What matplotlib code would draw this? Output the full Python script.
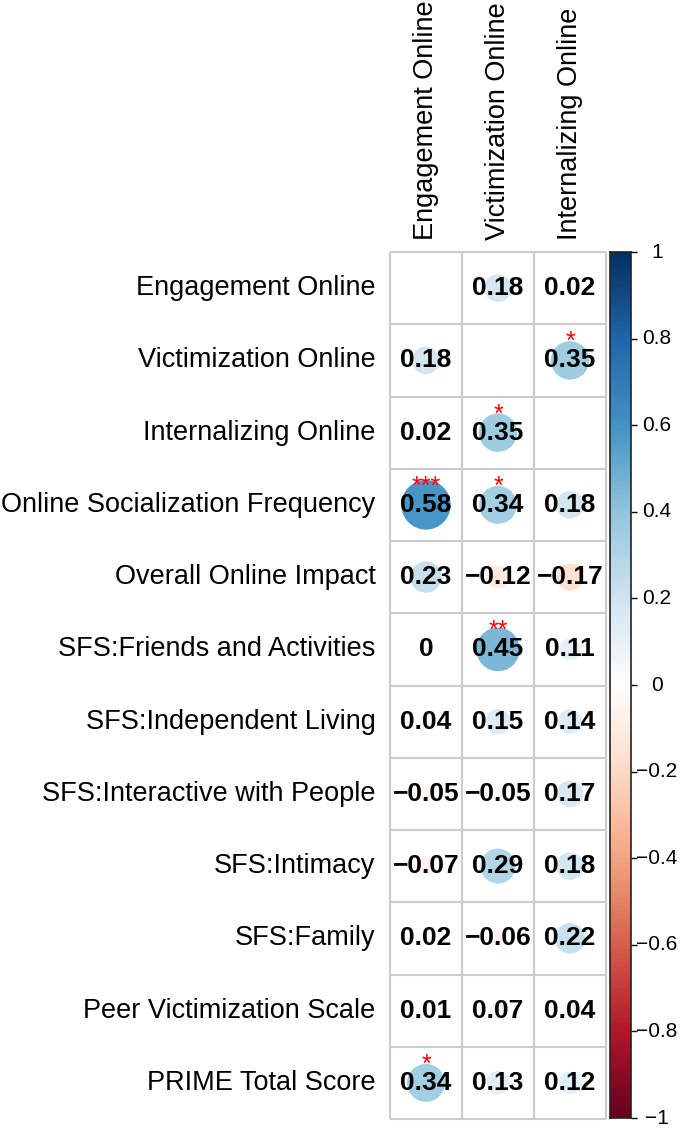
import numpy as np
import matplotlib
matplotlib.use("Agg")
import matplotlib.pyplot as plt
from matplotlib.colors import LinearSegmentedColormap, Normalize
from matplotlib.patches import Circle
from matplotlib.transforms import blended_transform_factory

plt.rcParams['font.family'] = ['Liberation Sans', 'DejaVu Sans']

row_labels = ["Engagement Online", "Victimization Online", "Internalizing Online",
              "Online Socialization Frequency", "Overall Online Impact",
              "SFS:Friends and Activities", "SFS:Independent Living",
              "SFS:Interactive with People", "SFS:Intimacy", "SFS:Family",
              "Peer Victimization Scale", "PRIME Total Score"]
col_labels = ["Engagement Online", "Victimization Online", "Internalizing Online"]

corr_engagement = [np.nan, 0.18, 0.02, 0.58, 0.23, 0.00, 0.04, -0.05, -0.07, 0.02, 0.01, 0.34]
corr_victimization = [0.18, np.nan, 0.35, 0.34, -0.12, 0.45, 0.15, -0.05, 0.29, -0.06, 0.07, 0.13]
corr_internalizing = [0.02, 0.35, np.nan, 0.18, -0.17, 0.11, 0.14, 0.17, 0.18, 0.22, 0.04, 0.12]

sig_engagement = ["", "", "", "***", "", "", "", "", "", "", "", "*"]
sig_victimization = ["", "", "*", "*", "", "**", "", "", "", "", "", ""]
sig_internalizing = ["", "*", "", "", "", "", "", "", "", "", "", ""]

cbar_ticks = [-1, -0.8, -0.6, -0.4, -0.2, 0, 0.2, 0.4, 0.6, 0.8, 1]

corr = np.column_stack([corr_engagement, corr_victimization, corr_internalizing])
sig = np.column_stack([sig_engagement, sig_victimization, sig_internalizing])

cmap = LinearSegmentedColormap.from_list(
    "corrRdBu", ["#67001F", "#B2182B", "#D6604D", "#F4A582", "#FDDBC7", "#FFFFFF",
                 "#D1E5F0", "#92C5DE", "#4393C3", "#2166AC", "#053061"], N=200)
norm = Normalize(-1, 1)

W, H = 680, 1130
fig = plt.figure(figsize=(W / 100, H / 100), dpi=100)

nrow, ncol = corr.shape
left, right, top, bottom = 390, 606, 252, 1119
ax = fig.add_axes([left / W, 1 - bottom / H, (right - left) / W, (bottom - top) / H])
ax.set_xlim(0, ncol)
ax.set_ylim(nrow, 0)
ax.set_axis_off()

grid_col = "#CCCCCC"
for i in range(nrow + 1):
    ax.plot([0, ncol], [i, i], color=grid_col, lw=1.5, solid_capstyle='butt', zorder=1, clip_on=False)
for j in range(ncol + 1):
    ax.plot([j, j], [0, nrow], color=grid_col, lw=1.5, solid_capstyle='butt', zorder=1, clip_on=False)

for i in range(nrow):
    for j in range(ncol):
        v = corr[i, j]
        if np.isnan(v):
            continue
        r = 0.45 * np.sqrt(abs(v))
        if r > 0:
            ax.add_patch(Circle((j + 0.5, i + 0.5), r, facecolor=cmap(norm(v)),
                                edgecolor='none', zorder=2))
        txt = "0" if v == 0 else f"{v:.2f}".replace("-", "\u2212")
        ax.text(j + 0.5, i + 0.5, txt, ha='center', va='center', fontsize=19,
                fontweight='bold', color='black', zorder=3)
        if sig[i, j]:
            ax.text(j + 0.5, i + 0.25, sig[i, j], ha='center', va='center', fontsize=18,
                    color='red', zorder=4)

for i, lab in enumerate(row_labels):
    ax.text(-0.2, i + 0.5, lab, ha='right', va='center', fontsize=19.5, color='black')
for j, lab in enumerate(col_labels):
    ax.text(j + 0.5, -0.17, lab, ha='center', va='bottom', rotation=90, fontsize=19.5, color='black')

# colorbar
cax = fig.add_axes([610 / W, 1 - 1118 / H, 21 / W, (1118 - 252) / H])
grad = np.linspace(-1, 1, 200).reshape(-1, 1)
cax.imshow(grad, aspect='auto', cmap=cmap, norm=norm, origin='lower', extent=[0, 1, -1, 1])
cax.set_xlim(0, 1)
cax.set_ylim(-1, 1)
cax.set_xticks([])
cax.yaxis.tick_right()
cax.set_yticks(cbar_ticks)
cax.set_yticklabels([])
cax.tick_params(axis='y', length=4, width=1, colors='black')
trans = blended_transform_factory(cax.transAxes, cax.transData)
for t in cbar_ticks:
    lab = ("\u2212" if t < 0 else "") + f"{abs(t):g}"
    cax.text(2.24, t, lab, transform=trans, ha='center', va='center', fontsize=15,
             color='black', clip_on=False)
for s in cax.spines.values():
    s.set_linewidth(1.2)
    s.set_color('#222222')

fig.savefig("out.png", dpi=100)
